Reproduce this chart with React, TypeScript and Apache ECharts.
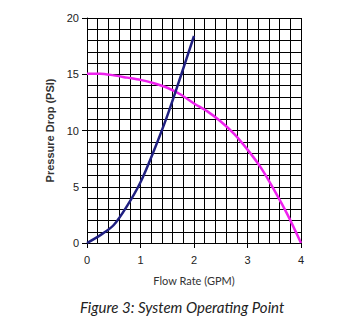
import React, { useEffect, useRef } from "react";
import * as echarts from "echarts";

const systemFlow = [0, 0.25, 0.5, 0.75, 1.0, 1.25, 1.5, 1.75, 2.0];
const systemPressure = [0, 0.7, 1.6, 3.3, 5.4, 8.2, 11.3, 14.8, 18.4];

const pumpFlow = [0, 0.25, 0.5, 0.75, 1.0, 1.25, 1.5, 1.75, 2.0, 2.25, 2.5, 2.75, 3.0, 3.25, 3.5, 3.75, 4.0];
const pumpPressure = [15.05, 15.05, 14.9, 14.7, 14.5, 14.2, 13.8, 13.2, 12.4, 11.7, 10.8, 9.7, 8.3, 6.7, 4.7, 2.5, 0];

const xTicks = [0, 1, 2, 3, 4];
const yTicks = [0, 5, 10, 15, 20];

export default function App() {
  const ref = useRef<HTMLDivElement>(null);
  useEffect(() => {
    if (!ref.current) return;
    const chart = echarts.init(ref.current, null, { renderer: "svg" });
    const gridLine = { show: true, lineStyle: { color: "#000", width: 1, type: "solid" as const } };
    chart.setOption({
      animation: false,
      backgroundColor: "#fff",
      grid: { left: 87, top: 18, width: 214, height: 225, containLabel: false, outerBoundsMode: "none", show: false },
      xAxis: {
        type: "value",
        min: xTicks[0],
        max: xTicks[xTicks.length - 1],
        interval: 1,
        name: "Flow Rate (GPM)",
        nameLocation: "middle",
        nameGap: 32,
        nameTextStyle: { fontFamily: "Lato", fontSize: 11, color: "#333" },
        axisLine: { show: true, onZero: false, lineStyle: { color: "#000", width: 1 } },
        axisTick: { show: true, length: 5, lineStyle: { color: "#000" } },
        axisLabel: { fontFamily: "Liberation Sans", fontSize: 11, color: "#222", margin: 11 },
        splitLine: gridLine,
        minorTick: { show: false, splitNumber: 5 },
        minorSplitLine: gridLine,
      },
      yAxis: {
        type: "value",
        min: yTicks[0],
        max: yTicks[yTicks.length - 1],
        interval: 5,
        name: "Pressure Drop (PSI)",
        nameLocation: "middle",
        nameGap: 31,
        nameTextStyle: { fontFamily: "Liberation Sans", fontSize: 11, fontWeight: "bold", color: "#333" },
        axisLine: { show: true, onZero: false, lineStyle: { color: "#000", width: 1 } },
        axisTick: { show: true, length: 5, lineStyle: { color: "#000" } },
        axisLabel: { fontFamily: "Liberation Sans", fontSize: 11, color: "#222", margin: 8 },
        splitLine: gridLine,
        minorTick: { show: false, splitNumber: 5 },
        minorSplitLine: gridLine,
      },
      series: [
        {
          type: "line",
          data: pumpFlow.map((x, i) => [x, pumpPressure[i]]),
          showSymbol: false,
          smooth: 0.3,
          lineStyle: { color: "#ee22ee", width: 2.5 },
          z: 3,
        },
        {
          type: "line",
          data: systemFlow.map((x, i) => [x, systemPressure[i]]),
          showSymbol: false,
          smooth: 0.3,
          lineStyle: { color: "#1f1f80", width: 2.5 },
          z: 4,
        },
      ],
      graphic: [
        {
          type: "text",
          left: 80,
          top: 299,
          style: {
            text: "Figure 3: System Operating Point",
            font: "italic 15px Lato",
            fill: "#222",
          },
        },
      ],
    });
    return () => chart.dispose();
  }, []);
  return <div ref={ref} style={{ width: 350, height: 325, position: "absolute", left: 0, top: 0 }} />;
}
